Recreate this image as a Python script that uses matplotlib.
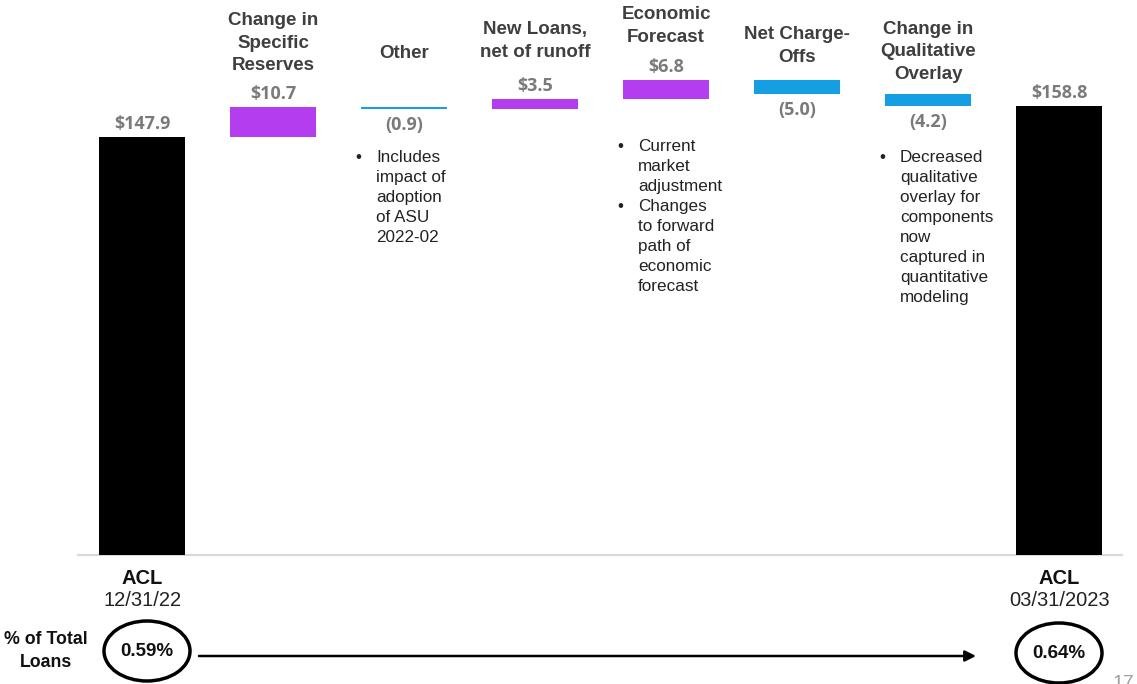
import matplotlib
matplotlib.use("Agg")
import matplotlib.pyplot as plt
from matplotlib.patches import Ellipse

# ---------------- data ----------------
categories = ["ACL", "Change in\nSpecific\nReserves", "Other", "New Loans,\nnet of runoff",
              "Economic\nForecast", "Net Charge-\nOffs", "Change in\nQualitative\nOverlay", "ACL"]
period_labels = ["12/31/22", "03/31/2023"]
start_value = 147.9
changes = [10.7, -0.9, 3.5, 6.8, -5.0, -4.2]
end_value = 158.8
value_labels = ["$147.9", "$10.7", "(0.9)", "$3.5", "$6.8", "(5.0)", "(4.2)", "$158.8"]
pct_labels = ["0.59%", "0.64%"]
notes = {
    2: "Includes\nimpact of\nadoption\nof ASU\n2022-02",
    4: "Current\nmarket\nadjustment\nChanges\nto forward\npath of\neconomic\nforecast",
    6: "Decreased\nqualitative\noverlay for\ncomponents\nnow\ncaptured in\nquantitative\nmodeling",
}
note_bullets = {2: "•", 4: "•\n\n\n•", 6: "•"}

# ---------------- styling / layout ----------------
W, H = 1137, 684
PURPLE = "#B43DF0"
BLUE = "#159FE2"
TOTAL = "#000000"
TITLE_C = "#3F3F3F"
VAL_C = "#7A7A7A"
NOTE_C = "#222222"

base_px = 555          # baseline pixel row
px_per_unit = 2.826
title_center_px = {1: 43, 2: 54, 3: 41, 4: 26, 5: 46, 6: 52}
note_top_px = {2: 150, 4: 139, 6: 150}

fig = plt.figure(figsize=(W / 100, H / 100), dpi=100)
ax = fig.add_axes([78 / W, 1 - base_px / H, (1122 - 78) / W, base_px / H])
ax.set_xlim(-0.49, 7.48)
ax.set_ylim(0, base_px / px_per_unit)
ax.axis("off")

# waterfall geometry from data
xs = list(range(len(categories)))
bottoms, heights, colors = [0], [start_value], [TOTAL]
level = start_value
for c in changes:
    if c >= 0:
        bottoms.append(level); heights.append(c); colors.append(PURPLE)
    else:
        bottoms.append(level + c); heights.append(-c); colors.append(BLUE)
    level += c
bottoms.append(0); heights.append(end_value); colors.append(TOTAL)

ax.bar(xs, heights, bottom=bottoms, width=0.655, color=colors, linewidth=0)
ax.axhline(0, color="#D9D9D9", lw=1.6, clip_on=False, zorder=0)

deltas = [start_value] + changes + [end_value]
for i, (x, b, h, d) in enumerate(zip(xs, bottoms, heights, deltas)):
    if d >= 0:
        ax.annotate(value_labels[i], (x, b + h), xytext=(0, 4), textcoords="offset pixels",
                    ha="center", va="bottom", fontsize=13, fontweight="bold",
                    family="Open Sans", color=VAL_C)
    else:
        ax.annotate(value_labels[i], (x, b), xytext=(0, -7), textcoords="offset pixels",
                    ha="center", va="top", fontsize=13, fontweight="bold",
                    family="Open Sans", color=VAL_C)

xt = ax.get_xaxis_transform()
for i, ypx in title_center_px.items():
    ax.text(xs[i], 1 - ypx / base_px, categories[i], transform=xt, ha="center", va="center",
            multialignment="center", fontsize=13.5, fontweight="bold",
            family="Liberation Sans", color=TITLE_C, linespacing=1.4)

for i, txt in notes.items():
    ytop = 1 - note_top_px[i] / base_px
    ax.text(xs[i] - 0.215, ytop, txt, transform=xt, ha="left", va="top",
            fontsize=12.3, family="Liberation Sans", color=NOTE_C, linespacing=1.42)
    ax.text(xs[i] - 0.375, ytop, note_bullets[i], transform=xt, ha="left", va="top",
            fontsize=12.3, family="Liberation Sans", color=NOTE_C, linespacing=1.42)

# bottom category labels
for i, per in zip([0, len(xs) - 1], period_labels):
    ax.text(xs[i], 1 - 578 / base_px, categories[i], transform=xt, ha="center", va="center",
            fontsize=14.5, fontweight="bold", family="Liberation Sans", color="#111111")
    ax.text(xs[i], 1 - 600 / base_px, per, transform=xt, ha="center", va="center",
            fontsize=14.5, family="Liberation Sans", color="#222222")

# overlay in pixel coordinates for the % of total loans row
ov = fig.add_axes([0, 0, 1, 1])
ov.set_xlim(0, W)
ov.set_ylim(H, 0)
ov.axis("off")
ov.patch.set_alpha(0)

ov.text(46, 651, "% of Total\nLoans", ha="center", va="center", fontsize=12.8,
        fontweight="bold", family="Liberation Sans", color="#111111", linespacing=1.45)
for (cx, cy), lab in zip([(147, 651), (1059, 653)], pct_labels):
    ov.add_patch(Ellipse((cx, cy), 86, 60, fill=False, ec="black", lw=2.5))
    ov.text(cx, cy, lab, ha="center", va="center", fontsize=13.5, fontweight="bold",
            family="Liberation Sans", color="#111111")
ov.annotate("", xy=(976, 656), xytext=(199, 656),
            arrowprops=dict(arrowstyle="-|>", lw=1.8, color="black", mutation_scale=16,
                            shrinkA=0, shrinkB=0))
ov.text(1112, 684, "17", ha="left", va="center", fontsize=14, color="#A0A0A0",
        family="Liberation Sans")

fig.savefig("out.png", dpi=100)
